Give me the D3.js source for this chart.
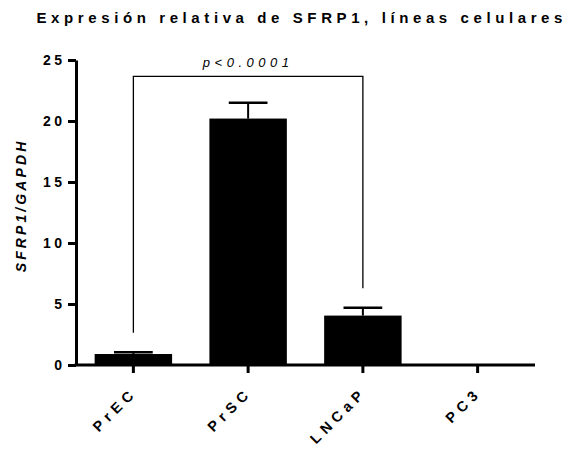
<!DOCTYPE html>
<html>
<head>
<meta charset="utf-8">
<script src="https://cdn.jsdelivr.net/npm/d3@7"></script>
<style>
  body { margin: 0; background: #fff; }
  svg { display: block; font-family: "Liberation Sans", Arial, sans-serif; }
</style>
</head>
<body>
<svg id="chart" width="577" height="449"></svg>
<script>
// Relative SFRP1 expression per cell line (mean and upper SEM)
const categories = ["PrEC", "PrSC", "LNCaP", "PC3"];
const means = [0.9, 20.2, 4.05, 0.0];
const errors = [0.15, 1.3, 0.65, 0.0];
const yTicks = [0, 5, 10, 15, 20, 25];
const comparison = { from: "PrEC", to: "LNCaP", label: "p<0.0001" };

const svg = d3.select("#chart");
const plotLeft = 76, plotRight = 535, plotTop = 60, plotBottom = 365;
const FONT = "Liberation Sans, Arial, sans-serif";

const x = d3.scaleBand().domain(categories).range([plotLeft, plotRight])
  .paddingInner(0.325).paddingOuter(0.1625);
const y = d3.scaleLinear().domain([0, 25]).range([plotBottom, plotTop]);

// Bars
svg.append("g").selectAll("rect").data(categories).join("rect")
  .attr("x", d => x(d))
  .attr("width", x.bandwidth())
  .attr("y", (d, i) => y(means[i]))
  .attr("height", (d, i) => y(0) - y(means[i]))
  .attr("fill", "#000");

// Upper error bars
const eb = svg.append("g").attr("stroke", "#000").attr("stroke-width", 2);
categories.forEach((c, i) => {
  if (errors[i] <= 0) return;
  const cx = x(c) + x.bandwidth() / 2;
  const half = x.bandwidth() / 4;
  eb.append("line").attr("x1", cx).attr("x2", cx)
    .attr("y1", y(means[i])).attr("y2", y(means[i] + errors[i]));
  eb.append("line").attr("x1", cx - half).attr("x2", cx + half)
    .attr("y1", y(means[i] + errors[i])).attr("y2", y(means[i] + errors[i]))
    .attr("stroke-width", 2.5);
});

// Significance bracket
const bx1 = x(comparison.from) + x.bandwidth() / 2;
const bx2 = x(comparison.to) + x.bandwidth() / 2;
const by = y(23.65);
const i1 = categories.indexOf(comparison.from), i2 = categories.indexOf(comparison.to);
svg.append("path")
  .attr("d", `M${bx1},${y(means[i1] + errors[i1] + 1.6)}V${by}H${bx2}V${y(means[i2] + errors[i2] + 1.6)}`)
  .attr("fill", "none").attr("stroke", "#000").attr("stroke-width", 1.3);
const pSpacing = 4.5;
svg.append("text")
  .attr("x", (bx1 + bx2) / 2).attr("y", by - 9.3)
  .attr("text-anchor", "middle")
  .attr("font-size", 13).attr("font-style", "italic")
  .style("letter-spacing", pSpacing + "px")
  .text(comparison.label);

// Y axis
const yAxis = svg.append("g").attr("transform", `translate(${plotLeft},0)`)
  .call(d3.axisLeft(y).tickValues(yTicks).tickSize(8).tickSizeOuter(0).tickPadding(2.5));
yAxis.select(".domain").attr("stroke-width", 3);
yAxis.selectAll(".tick line").attr("stroke-width", 3);
yAxis.selectAll(".tick text").attr("font-size", 14).attr("font-weight", "bold")
  .style("letter-spacing", "3.5px").attr("font-family", FONT);

// X axis
const xSpacing = 5;
const xAxis = svg.append("g").attr("transform", `translate(0,${plotBottom})`)
  .call(d3.axisBottom(x).tickSize(8).tickSizeOuter(0).tickPadding(4));
xAxis.select(".domain").attr("stroke-width", 3).attr("d", `M${plotLeft - 1.5},0H${plotRight}`);
xAxis.selectAll(".tick line").attr("stroke-width", 3);
xAxis.selectAll(".tick text")
  .attr("font-size", 14.5).attr("font-weight", "bold").style("letter-spacing", xSpacing + "px")
  .attr("font-family", FONT)
  .attr("text-anchor", "end").attr("dy", 0)
  .attr("transform", `translate(${1 + xSpacing * 0.707},${32 - xSpacing * 0.707}) rotate(-45)`)
  .attr("y", 0).attr("x", 0);

// Axis title
const tSpacing = 3.1;
svg.append("text")
  .attr("transform", `translate(26,${207 - tSpacing / 2}) rotate(-90)`)
  .attr("text-anchor", "middle")
  .attr("font-size", 14).attr("font-weight", "bold").attr("font-style", "italic")
  .style("letter-spacing", tSpacing + "px")
  .text("SFRP1/GAPDH");

// Chart title
svg.append("text")
  .attr("x", 36.5).attr("y", 22.5)
  .attr("font-size", 15).attr("font-weight", "bold")
  .style("letter-spacing", "4.6px")
  .text("Expresión relativa de SFRP1, líneas celulares");
</script>
</body>
</html>
